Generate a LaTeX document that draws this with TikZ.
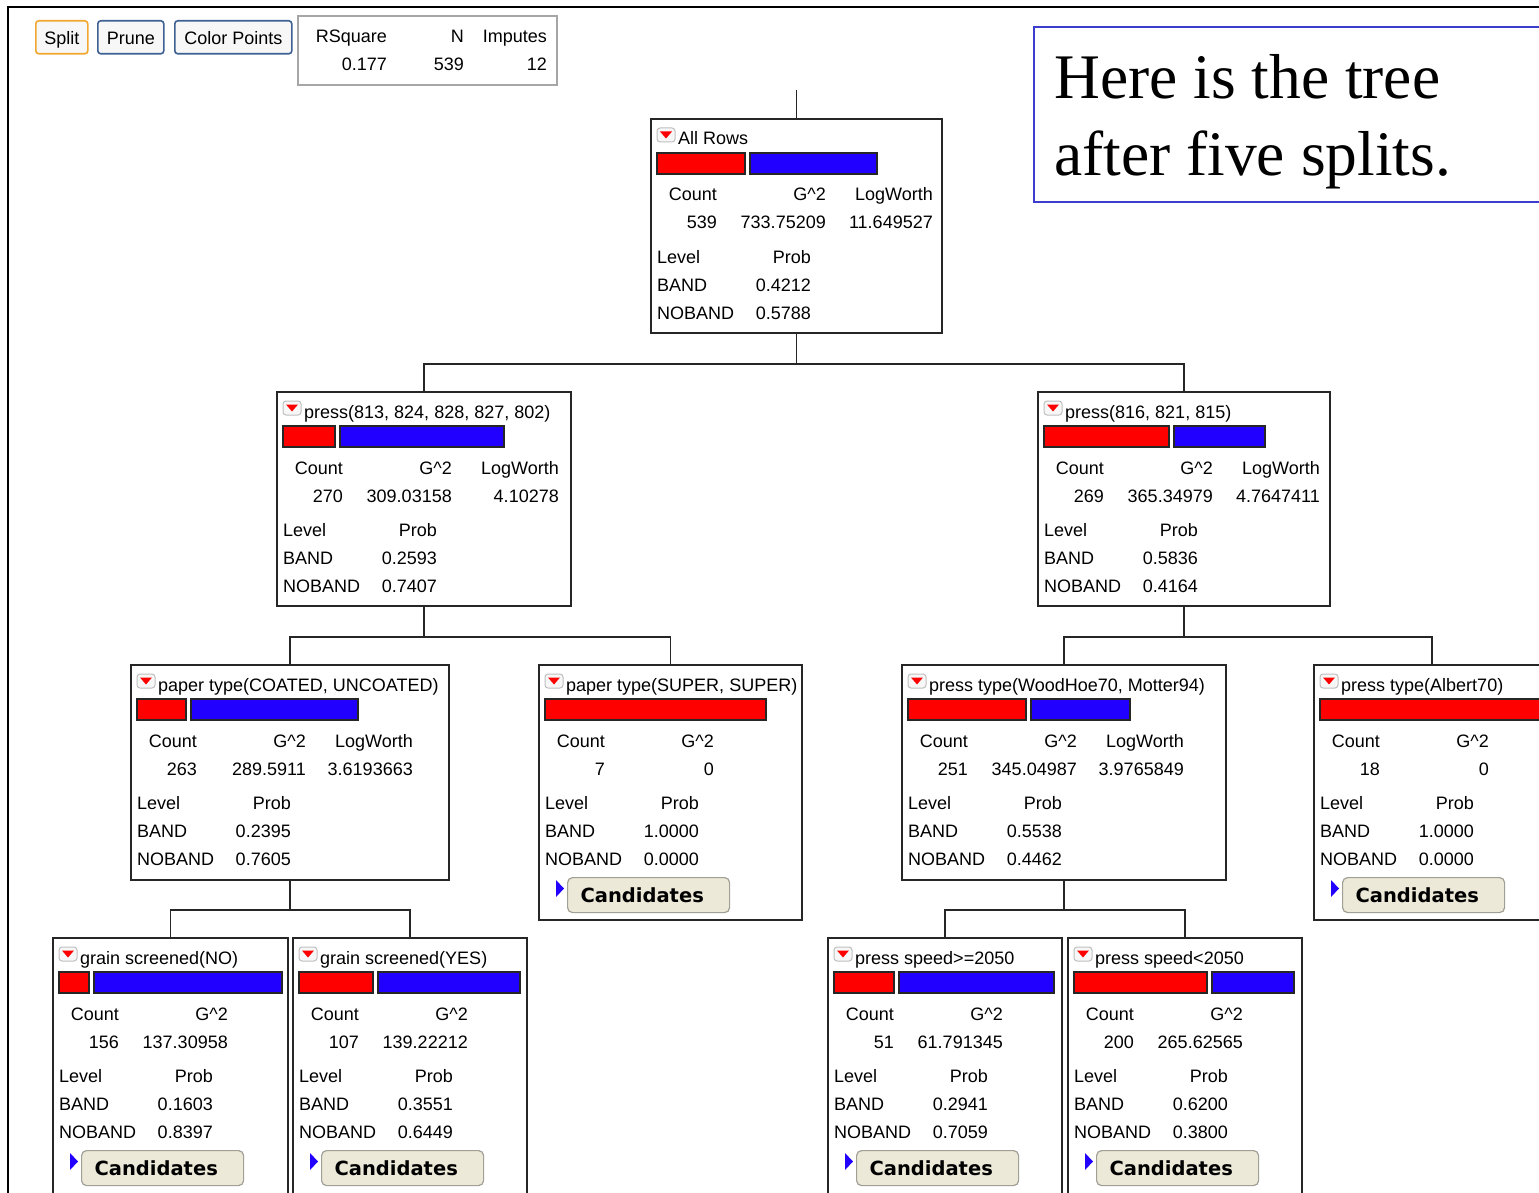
\documentclass[tikz,border=0pt]{standalone}
\usepackage{fontspec}
\setmainfont{Liberation Sans}
\newfontfamily\notefont{Liberation Serif}
\newfontfamily\candfont{DejaVu Sans}
\usetikzlibrary{positioning, arrows.meta, calc}

\definecolor{barred}{RGB}{255,0,0}
\definecolor{barblue}{RGB}{34,0,255}
\definecolor{btnfill}{RGB}{236,233,216}
\definecolor{btnedge}{RGB}{160,160,150}
\definecolor{notebd}{RGB}{60,60,205}
\definecolor{splitbd}{RGB}{242,168,48}
\definecolor{btnbd}{RGB}{62,96,146}

% title line, icon and the two bars of a tree node
\newcommand{\nodehead}[4]{%
  \begin{scope}[shift={(#1.north west)}]
    \draw[iconbox] (7,10) rectangle (25,24);
    \fill[barred] (10,13.5) -- (22,13.5) -- (16,20.5) -- cycle;
    \node[lft] (#1title) at (28,27) {#2};
    \draw[bar, fill=barred] (7,35) rectangle ++(#3,21);
    \ifnum#4>0\relax \draw[bar, fill=barblue] (#3+12,35) rectangle ++(#4,21);\fi
  \end{scope}}

% count / G^2 / LogWorth and the level table
\newcommand{\nodestats}[7]{%
  \begin{scope}[shift={(#1.north west)}]
    \node[rgt] (#1cnth) at (67,83) {Count};
    \node[rgt] (#1g2h) at (176,83) {G\textasciicircum2};
    \node[rgt] (#1lwh) at (283,83) {#4};
    \node[rgt] (#1cnt) at (67,111) {#2};
    \node[rgt] (#1g2) at (176,111) {#3};
    \node[rgt] (#1lw) at (283,111) {#5};
    \node[lft] (#1lvl) at (7,145) {Level};
    \node[rgt] (#1prob) at (161,145) {Prob};
    \node[lft] (#1bandh) at (7,173) {BAND};
    \node[rgt] (#1band) at (161,173) {#6};
    \node[lft] (#1nobandh) at (7,201) {NOBAND};
    \node[rgt] (#1noband) at (161,201) {#7};
  \end{scope}}

% Candidates button of a leaf
\newcommand{\candbtn}[1]{%
  \begin{scope}[shift={(#1.north west)}]
    \fill[barblue] (18,216) -- (26,224.5) -- (18,233) -- cycle;
    \node[candbox] (#1cand) at (29,213) {Candidates};
  \end{scope}}

\begin{document}
\begin{tikzpicture}[
    x=1pt, y=-1pt,
    txt/.style={font=\fontsize{18}{21}\selectfont, inner sep=0pt},
    lft/.style={txt, anchor=base west},
    rgt/.style={txt, anchor=base east},
    treebox/.style={draw=black!85, line width=1.7pt, anchor=north west, inner sep=0pt, fill=white},
    conn/.style={draw=black!85, line width=1.7pt},
    bar/.style={draw=black!85, line width=1.3pt},
    iconbox/.style={draw=black!25, fill=black!3, rounded corners=3pt, line width=1pt},
    candbox/.style={anchor=north west, draw=btnedge, fill=btnfill, rounded corners=5pt, line width=1.2pt,
        text width=136pt, inner xsep=13pt, minimum height=35pt, align=left,
        font=\candfont\bfseries\fontsize{19.5}{22}\selectfont},
    btn/.style={txt, anchor=north west, draw=btnbd, fill=black!3, rounded corners=3pt, line width=1.6pt,
        minimum height=33pt, text height=15.5pt, text depth=1.5pt},
]
\useasboundingbox (0,0) rectangle (1539,1193);
\clip (0,0) rectangle (1539,1193);
\fill[white] (0,0) rectangle (1539,1193);
\draw[line width=2pt] (1539,7) -- (8,7) -- (8,1193);

% buttons and fit statistics
\node[btn, draw=splitbd, minimum width=52pt] (split) at (35,20) {Split};
\node[btn, minimum width=66pt] (prune) at (97,20) {Prune};
\node[btn, minimum width=117pt] (colorpts) at (174,20) {Color Points};
\node[anchor=north west, draw=black!35, line width=1.6pt, minimum width=259pt, minimum height=69pt, inner sep=0pt] (fitstats) at (297,15) {};
\node[rgt] (rsqh) at (387,42.5) {RSquare};
\node[rgt] (nh) at (464,42.5) {N};
\node[rgt] (imph) at (547,42.5) {Imputes};
\node[rgt] (rsq) at (387,70.5) {0.177};
\node[rgt] (nval) at (464,70.5) {539};
\node[rgt] (imp) at (547,70.5) {12};

% note
\node[anchor=north west, draw=notebd, line width=1.6pt, fill=white, minimum width=520pt, minimum height=175pt, inner sep=0pt] (note) at (1033,26) {};
\node[anchor=north west, inner sep=0pt, align=left, font=\notefont\fontsize{63.5}{77}\selectfont] (notetext) at (1054,54.6) {Here is the tree\\after five splits.};

% tree nodes
\node[treebox, minimum width=291pt, minimum height=214pt] (root) at (650,118) {};
\node[treebox, minimum width=294pt, minimum height=214pt] (pressA) at (276,391) {};
\node[treebox, minimum width=292pt, minimum height=214pt] (pressB) at (1037,391) {};
\node[treebox, minimum width=318pt, minimum height=215pt] (paperA) at (130,664) {};
\node[treebox, minimum width=263pt, minimum height=255pt] (paperB) at (538,664) {};
\node[treebox, minimum width=324pt, minimum height=215pt] (ptypeA) at (901,664) {};
\node[treebox, minimum width=236pt, minimum height=255pt] (ptypeB) at (1313,664) {};
\node[treebox, minimum width=235pt, minimum height=265pt] (grainNo) at (52,937) {};
\node[treebox, minimum width=234pt, minimum height=265pt] (grainYes) at (292,937) {};
\node[treebox, minimum width=234pt, minimum height=265pt] (speedHi) at (827,937) {};
\node[treebox, minimum width=234pt, minimum height=265pt] (speedLo) at (1067,937) {};

% connectors
\coordinate (stem) at ($(root.north)+(0,-28)$);
\draw[conn] (stem) -- (root.north);
\draw[conn] (root.south) -- ++(0,30) -| (pressA.north);
\draw[conn] (root.south) -- ++(0,30) -| (pressB.north);
\draw[conn] (pressA.south) -- ++(0,30) -| (paperA.north);
\draw[conn] (pressA.south) -- ++(0,30) -| (paperB.north);
\draw[conn] (pressB.south) -- ++(0,30) -| (ptypeA.north);
\draw[conn] (pressB.south) -- ++(0,30) -| (ptypeB.north);
\draw[conn] (paperA.south) -- ++(0,29) -| (grainNo.north);
\draw[conn] (paperA.south) -- ++(0,29) -| (grainYes.north);
\draw[conn] (ptypeA.south) -- ++(0,29) -| (speedHi.north);
\draw[conn] (ptypeA.south) -- ++(0,29) -| (speedLo.north);

% contents
\nodehead{root}{All Rows}{88}{127}
\nodestats{root}{539}{733.75209}{LogWorth}{11.649527}{0.4212}{0.5788}
\nodehead{pressA}{press(813, 824, 828, 827, 802)}{52}{164}
\nodestats{pressA}{270}{309.03158}{LogWorth}{4.10278}{0.2593}{0.7407}
\nodehead{pressB}{press(816, 821, 815)}{125}{91}
\nodestats{pressB}{269}{365.34979}{LogWorth}{4.7647411}{0.5836}{0.4164}
\nodehead{paperA}{paper type(COATED, UNCOATED)}{49}{167}
\nodestats{paperA}{263}{289.5911}{LogWorth}{3.6193663}{0.2395}{0.7605}
\nodehead{paperB}{paper type(SUPER, SUPER)}{221}{0}
\nodestats{paperB}{7}{0}{}{}{1.0000}{0.0000}
\candbtn{paperB}
\nodehead{ptypeA}{press type(WoodHoe70, Motter94)}{118}{99}
\nodestats{ptypeA}{251}{345.04987}{LogWorth}{3.9765849}{0.5538}{0.4462}
\nodehead{ptypeB}{press type(Albert70)}{222}{0}
\nodestats{ptypeB}{18}{0}{}{}{1.0000}{0.0000}
\candbtn{ptypeB}
\nodehead{grainNo}{grain screened(NO)}{30}{188}
\nodestats{grainNo}{156}{137.30958}{}{}{0.1603}{0.8397}
\candbtn{grainNo}
\nodehead{grainYes}{grain screened(YES)}{74}{142}
\nodestats{grainYes}{107}{139.22212}{}{}{0.3551}{0.6449}
\candbtn{grainYes}
\nodehead{speedHi}{press speed>=2050}{60}{155}
\nodestats{speedHi}{51}{61.791345}{}{}{0.2941}{0.7059}
\candbtn{speedHi}
\nodehead{speedLo}{press speed<2050}{133}{82}
\nodestats{speedLo}{200}{265.62565}{}{}{0.6200}{0.3800}
\candbtn{speedLo}
\end{tikzpicture}
\end{document}
